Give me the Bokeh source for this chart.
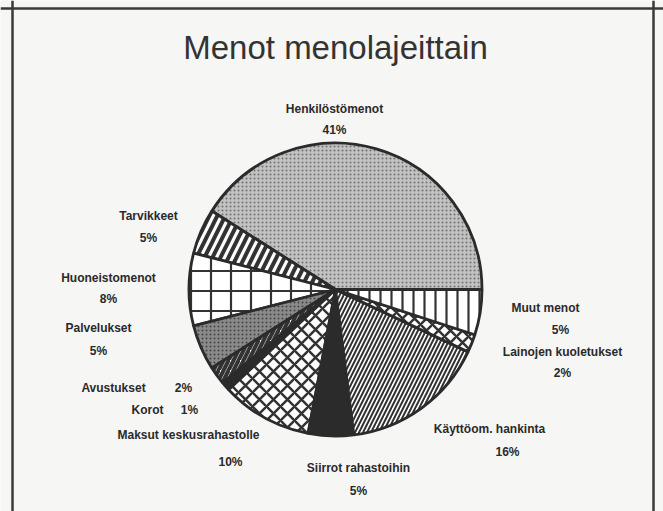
import numpy as np
from bokeh.plotting import figure
from bokeh.models import ColumnDataSource, Range1d, Span
from bokeh.core.properties import value
from bokeh.embed import file_html
from bokeh.resources import INLINE

# ---- data ----
categories = ["Henkilöstömenot", "Tarvikkeet", "Huoneistomenot", "Palvelukset",
              "Avustukset", "Korot", "Maksut keskusrahastolle", "Siirrot rahastoihin",
              "Käyttöom. hankinta", "Lainojen kuoletukset", "Muut menot"]
shares = [41, 5, 8, 5, 2, 1, 10, 5, 16, 2, 5]
pct_labels = [f"{s}%" for s in shares]

# ---- styles ----
fills = ["#c2c2c2", "#ffffff", "#ffffff", "#8a8a8a", "#ffffff", "#2b2b2b",
         "#ffffff", "#2b2b2b", "#ffffff", "#ffffff", "#ffffff"]
hatches = [".", "/", "+", ".", "/", " ", "x", " ", "/", "x", "|"]
hatch_scales = [4, 16, 20, 4, 10, 12, 14, 8, 8, 12, 11]
hatch_weights = [1.8, 4, 2.2, 1.5, 4, 1, 2.5, 1, 2, 2.5, 2.2]
hatch_colors = ["#6e6e6e", "#333333", "#333333", "#444444", "#333333", "#333333",
                "#333333", "#333333", "#333333", "#333333", "#333333"]

W, H = 663, 511
def px(x):  # page x -> data x
    return x
def py(y):  # page y -> data y
    return H - y

cx, cy, R = px(335), py(289), 146.5

# label layout (page coordinates)
name_pos = [(334, 108), (148, 215), (108, 277), (98, 327), (113, 387), (147, 409),
            (188, 434), (358, 467), (489, 428), (562, 351), (545, 307)]
pct_pos = [(334, 129), (148, 237), (108, 298), (98, 350), (183, 387), (189, 409),
           (230, 461), (358, 490), (507, 451), (562, 372), (560, 329)]

frac = np.array(shares, dtype=float) / sum(shares)
ends = np.cumsum(frac) * 2 * np.pi
starts = np.concatenate([[0.0], ends[:-1]])

src = ColumnDataSource(dict(
    start=starts, end=ends, fill=fills, hatch=hatches,
    hs=hatch_scales, hw=hatch_weights, hc=hatch_colors,
))

p = figure(width=W, height=H, output_backend="svg", toolbar_location=None,
           x_range=Range1d(0, W), y_range=Range1d(0, H), min_border=0)
p.axis.visible = False
p.grid.visible = False
p.outline_line_color = None
p.background_fill_color = "#f6f6f4"
p.border_fill_color = "#f6f6f4"

for loc in [px(12), px(653)]:
    p.add_layout(Span(location=loc, dimension="height", line_color="#3a3a3a", line_width=2.5))
p.add_layout(Span(location=py(8), dimension="width", line_color="#3a3a3a", line_width=2.5))

p.wedge(x=cx, y=cy, radius=R, start_angle="start", end_angle="end", source=src,
        fill_color="fill", hatch_pattern="hatch", hatch_scale="hs",
        hatch_weight="hw", hatch_color="hc",
        line_color="#2b2b2b", line_width=2.8)

p.text(x=[px(335)], y=[py(47)], text=["Menot menolajeittain"],
       text_font=value("Liberation Sans"), text_font_size="33px",
       text_color="#333333", text_align="center", text_baseline="middle")

lab = ColumnDataSource(dict(
    nx=[px(a) for a, b in name_pos], ny=[py(b) for a, b in name_pos], name=categories,
    qx=[px(a) for a, b in pct_pos], qy=[py(b) for a, b in pct_pos], pct=pct_labels,
))
common = dict(text_font=value("Liberation Sans"), text_font_size="12px",
              text_font_style="bold", text_color="#2a2a2a",
              text_align="center", text_baseline="middle", source=lab)
p.text(x="nx", y="ny", text="name", **common)
p.text(x="qx", y="qy", text="pct", **common)

open("out.html", "w").write(file_html(p, INLINE))
